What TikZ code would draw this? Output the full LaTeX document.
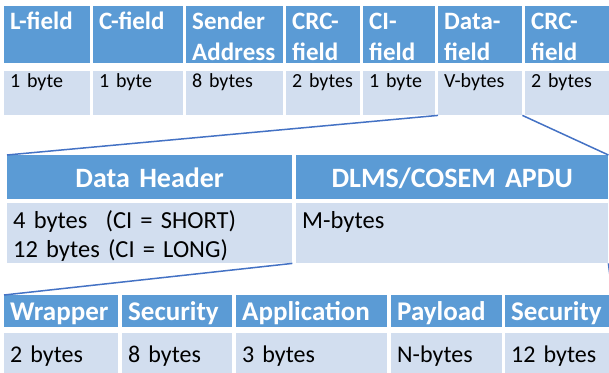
\documentclass[tikz,border=0pt]{standalone}
\usepackage{fontspec}
\setmainfont{Carlito}
\definecolor{hdblue}{HTML}{5B9BD5}
\definecolor{cellblue}{HTML}{D2DEEF}
\definecolor{linkblue}{HTML}{4472C4}

\begin{document}
\begin{tikzpicture}[x=1pt,y=-1pt,
  cell/.style={anchor=north west,inner xsep=6pt,inner ysep=0pt,align=left},
  tophd/.style={cell,fill=hdblue,text=white,font=\fontsize{25}{31}\selectfont\bfseries,text height=23pt,text depth=34pt},
  topval/.style={cell,fill=cellblue,font=\fontsize{20}{24}\selectfont,text height=16pt,text depth=28pt},
  midhd/.style={cell,fill=hdblue,text=white,align=center,font=\fontsize{28}{34}\selectfont\bfseries,text height=32pt,text depth=12pt},
  midval/.style={cell,fill=cellblue,font=\fontsize{24.5}{29}\selectfont,text height=25pt,text depth=35pt},
  bothd/.style={cell,fill=hdblue,text=white,font=\fontsize{27}{32}\selectfont\bfseries,text height=25pt,text depth=7pt},
  botval/.style={cell,fill=cellblue,font=\fontsize{24}{29}\selectfont,text height=29pt,text depth=18pt},
  link/.style={linkblue,line width=1.5pt}]

  \useasboundingbox (0,0) rectangle (609,372);
  \clip (0,0) rectangle (609,372);

  % frame fields
  \node[tophd,text width=74pt] (lf) at (4,6) {L-field};
  \node[tophd,text width=78pt] (cf) at (93,6) {C-field};
  \node[tophd,text width=85pt] (sa) at (186,6) {Sender\\Address};
  \node[tophd,text width=62pt] (crca) at (286,6) {CRC-\\field};
  \node[tophd,text width=60pt] (ci) at (363,6) {CI-\\field};
  \node[tophd,text width=72pt] (df) at (438,6) {Data-\\field};
  \node[tophd,text width=75pt] (crcb) at (525,6) {CRC-\\field};
  \node[topval,text width=74pt] (lfv) at (4,71) {1 byte};
  \node[topval,text width=78pt] (cfv) at (93,71) {1 byte};
  \node[topval,text width=85pt] (sav) at (186,71) {8 bytes};
  \node[topval,text width=62pt] (crcav) at (286,71) {2 bytes};
  \node[topval,text width=60pt] (civ) at (363,71) {1 byte};
  \node[topval,text width=72pt] (dfv) at (438,71) {V-bytes};
  \node[topval,text width=75pt] (crcbv) at (525,71) {2 bytes};

  % data field
  \node[midhd,text width=273pt] (dh) at (7,155) {Data Header};
  \node[midhd,text width=300pt] (apdu) at (296,155) {DLMS/COSEM APDU};
  \node[midval,text width=273pt] (dhv) at (7,203) {4 bytes\hspace{10pt} (CI = SHORT)\\12 bytes (CI = LONG)};
  \node[midval,text width=300pt] (apduv) at (296,203) {M-bytes};

  % apdu
  \node[bothd,text width=102pt] (wr) at (4,295) {Wrapper};
  \node[bothd,text width=98pt] (seca) at (122,295) {Security};
  \node[bothd,text width=139pt] (app) at (236,295) {Application};
  \node[bothd,text width=99pt] (pl) at (391,295) {Payload};
  \node[bothd,text width=95pt] (secb) at (505,295) {Security};
  \node[botval,text width=102pt] (wrv) at (4,333) {2 bytes};
  \node[botval,text width=98pt] (secav) at (122,333) {8 bytes};
  \node[botval,text width=139pt] (appv) at (236,333) {3 bytes};
  \node[botval,text width=99pt] (plv) at (391,333) {N-bytes};
  \node[botval,text width=95pt] (secbv) at (505,333) {12 bytes};

  % zoom lines
  \draw[link] (dfv.south west) -- (dh.north west);
  \draw[link] (dfv.south east) -- (apdu.north east);
  \draw[link] (dhv.south east) -- (wr.north west);
  \draw[link] (apduv.south east) -- (secb.north east);
\end{tikzpicture}
\end{document}
